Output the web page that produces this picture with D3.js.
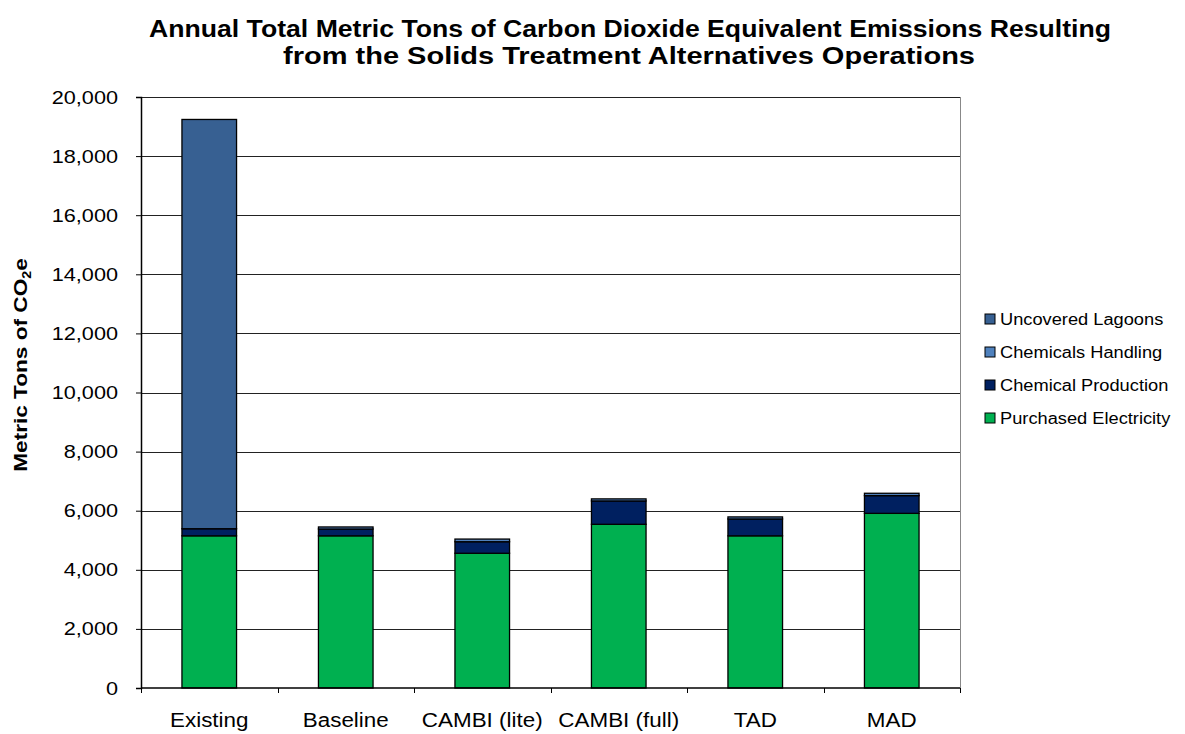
<!DOCTYPE html>
<html>
<head>
<meta charset="utf-8">
<script src="https://cdn.jsdelivr.net/npm/d3@7"></script>
<style>
  html, body { margin: 0; padding: 0; background: #fff; }
  svg { display: block; font-family: "Liberation Sans", Arial, sans-serif; }
</style>
</head>
<body>
<svg id="chart" width="1185" height="734"></svg>
<script>
// Alternatives on the x axis
const categories = ["Existing", "Baseline", "CAMBI (lite)", "CAMBI (full)", "TAD", "MAD"];

// Emission sources, stacked bottom to top (metric tons CO2e per year)
const purchasedElectricity = [5150, 5150, 4560, 5540, 5150, 5910];
const chemicalProduction   = [240, 230, 390, 790, 570, 600];
const chemicalsHandling    = [0, 70, 90, 70, 70, 80];
const uncoveredLagoons     = [13850, 0, 0, 0, 0, 0];

const seriesNames  = ["Purchased Electricity", "Chemical Production", "Chemicals Handling", "Uncovered Lagoons"];
const seriesColors = ["#00B050", "#002060", "#4F81BD", "#376092"];
const seriesValues = [purchasedElectricity, chemicalProduction, chemicalsHandling, uncoveredLagoons];

const yTicks = [0, 2000, 4000, 6000, 8000, 10000, 12000, 14000, 16000, 18000, 20000];

const svg = d3.select("#chart");
const plot = { left: 141, right: 960, top: 97, bottom: 688 };

// Widen text glyphs horizontally by a given factor
function widen(sel, factor) {
  sel.each(function () {
    const w = this.getComputedTextLength();
    d3.select(this)
      .attr("textLength", w * factor)
      .attr("lengthAdjust", "spacingAndGlyphs");
  });
}

const x = d3.scaleBand()
  .domain(categories)
  .range([plot.left, plot.right])
  .paddingInner(0.6)
  .paddingOuter(0.3);

const y = d3.scaleLinear()
  .domain([0, 20000])
  .range([plot.bottom, plot.top]);

// Title
const title = svg.append("text")
  .attr("text-anchor", "middle")
  .attr("font-weight", "bold")
  .attr("font-size", 23)
  .attr("fill", "#000");
title.append("tspan").attr("x", 630).attr("y", 37)
  .attr("textLength", 962).attr("lengthAdjust", "spacingAndGlyphs")
  .text("Annual Total Metric Tons of Carbon Dioxide Equivalent Emissions Resulting");
title.append("tspan").attr("x", 629).attr("y", 64)
  .attr("textLength", 692).attr("lengthAdjust", "spacingAndGlyphs")
  .text("from the Solids Treatment Alternatives Operations");

// Plot frame (right edge)
svg.append("line")
  .attr("x1", plot.right + 0.5).attr("x2", plot.right + 0.5)
  .attr("y1", plot.top).attr("y2", plot.bottom)
  .attr("stroke", "#888").attr("stroke-width", 1);

// Horizontal gridlines
svg.append("g")
  .selectAll("line")
  .data(yTicks.filter(d => d > 0))
  .join("line")
  .attr("x1", plot.left).attr("x2", plot.right)
  .attr("y1", d => Math.round(y(d)) + 0.5).attr("y2", d => Math.round(y(d)) + 0.5)
  .attr("stroke", "#222").attr("stroke-width", 1);

// Stacked bars
const rows = categories.map((c, i) => {
  const r = { category: c };
  seriesNames.forEach((s, k) => { r[s] = seriesValues[k][i]; });
  return r;
});
const stacked = d3.stack().keys(seriesNames)(rows);

svg.append("g")
  .selectAll("g")
  .data(stacked)
  .join("g")
  .attr("fill", (d, k) => seriesColors[k])
  .selectAll("rect")
  .data(d => d.filter(p => p[1] - p[0] > 0))
  .join("rect")
  .attr("x", d => x(d.data.category))
  .attr("width", x.bandwidth())
  .attr("y", d => y(d[1]))
  .attr("height", d => y(d[0]) - y(d[1]))
  .attr("stroke", "#000")
  .attr("stroke-width", 1.3);

// Y axis
const yAxis = d3.axisLeft(y)
  .tickValues(yTicks)
  .tickSize(5)
  .tickFormat(d3.format(","));
const yg = svg.append("g")
  .attr("transform", `translate(${plot.left},0)`)
  .call(yAxis);
yg.select(".domain").attr("stroke", "#000").attr("stroke-width", 1.5);
yg.selectAll(".tick line").attr("stroke", "#000");
yg.selectAll(".tick text")
  .attr("x", -23)
  .attr("font-size", 19)
  .attr("font-family", "Liberation Sans, Arial, sans-serif")
  .attr("fill", "#000")
  .call(widen, 1.14);

// X axis baseline with tick marks at category boundaries
svg.append("line")
  .attr("x1", plot.left).attr("x2", plot.right)
  .attr("y1", plot.bottom).attr("y2", plot.bottom)
  .attr("stroke", "#000").attr("stroke-width", 1.5);
const boundaries = d3.range(categories.length + 1)
  .map(i => plot.left + i * x.step());
svg.append("g")
  .selectAll("line")
  .data(boundaries)
  .join("line")
  .attr("x1", d => Math.round(d) + 0.5).attr("x2", d => Math.round(d) + 0.5)
  .attr("y1", plot.bottom).attr("y2", plot.bottom + 5)
  .attr("stroke", "#000");
svg.append("g")
  .selectAll("text")
  .data(categories)
  .join("text")
  .attr("x", d => x(d) + x.bandwidth() / 2)
  .attr("y", 727)
  .attr("text-anchor", "middle")
  .attr("font-size", 20)
  .attr("fill", "#000")
  .text(d => d)
  .call(widen, 1.12);

// Y axis title
const yTitle = svg.append("text")
  .attr("transform", "translate(27,365) rotate(-90) scale(1.19,1)")
  .attr("text-anchor", "middle")
  .attr("font-weight", "bold")
  .attr("font-size", 19)
  .attr("fill", "#000");
yTitle.append("tspan").text("Metric Tons of CO");
yTitle.append("tspan").attr("font-size", 12).attr("dy", 4).text("2");
yTitle.append("tspan").attr("dy", -4).text("e");

// Legend (top entry is the topmost stack layer)
const legendOrder = [3, 2, 1, 0];
const legend = svg.append("g")
  .selectAll("g")
  .data(legendOrder)
  .join("g")
  .attr("transform", (k, i) => `translate(985,${314 + i * 33})`);
legend.append("rect")
  .attr("width", 10).attr("height", 10)
  .attr("fill", k => seriesColors[k])
  .attr("stroke", "#000").attr("stroke-width", 1);
legend.append("text")
  .attr("x", 15).attr("y", 11)
  .attr("font-size", 16)
  .attr("fill", "#000")
  .text(k => seriesNames[k])
  .call(widen, 1.14);
</script>
</body>
</html>
